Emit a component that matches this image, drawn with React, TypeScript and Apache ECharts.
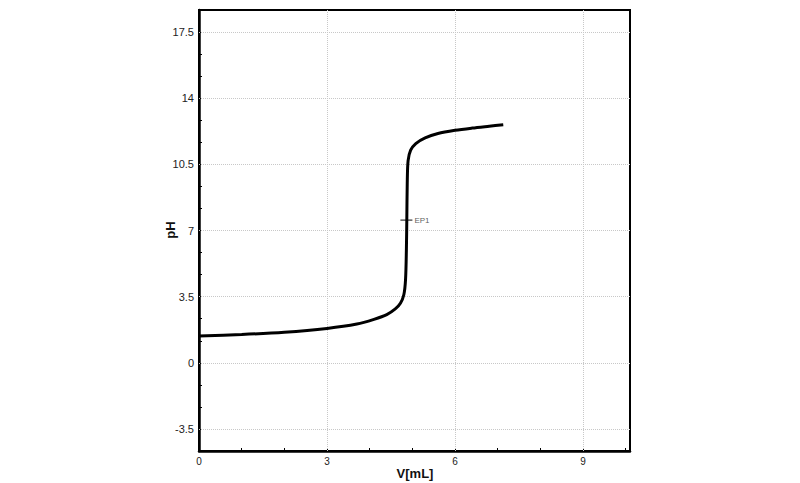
import React, { useEffect, useRef } from "react";
import * as echarts from "echarts";

const volume = [0, 1, 2, 3, 3.7, 4.1, 4.4, 4.6, 4.72, 4.8, 4.84, 4.86, 4.87, 4.88, 4.9, 4.96, 5.08, 5.3, 5.6, 6.0, 6.4, 6.8, 7.13];
const pH = [1.42, 1.5, 1.62, 1.82, 2.05, 2.3, 2.55, 2.85, 3.15, 3.6, 4.4, 6.0, 7.6, 9.5, 10.7, 11.25, 11.6, 11.9, 12.13, 12.3, 12.42, 12.52, 12.6];
const endPoint = { name: "EP1", v: 4.86, pH: 7.55 };
const xGridValues = [3, 6, 9];
const yGridValues = [-3.5, 0, 3.5, 7, 10.5, 14, 17.5];
const xRange = [0, 10.1];
const yRange = [-14 / 3, 56 / 3];

const FONT = "'Liberation Sans', Arial, sans-serif";

export default function App() {
  const ref = useRef<HTMLDivElement>(null);
  useEffect(() => {
    document.body.style.margin = "0";
    const chart = echarts.init(ref.current!, null, { renderer: "svg" });
    const gridLine = { type: "dotted", color: "#c8c8c8", width: 1 };
    chart.setOption({
      animation: false,
      backgroundColor: "#fff",
      grid: {
        left: 199,
        right: 170,
        top: 10,
        bottom: 32,
        show: true,
        borderColor: "#000",
        borderWidth: 2,
      },
      xAxis: {
        type: "value",
        min: xRange[0],
        max: xRange[1],
        interval: 1,
        axisLine: { show: true, onZero: false, lineStyle: { color: "#000", width: 2.5 } },
        axisTick: { show: true, inside: true, length: 3, lineStyle: { color: "#000", width: 1 } },
        splitLine: { show: false },
        axisLabel: {
          color: "#222",
          fontSize: 10,
          fontFamily: FONT,
          margin: 5,
          showMaxLabel: false,
          formatter: (v: number) => {
            const r = v / 3;
            return Math.abs(r - Math.round(r)) < 1e-6 ? String(Math.round(r) * 3) : "";
          },
        },
      },
      yAxis: {
        type: "value",
        min: yRange[0],
        max: yRange[1],
        interval: 7 / 6,
        axisLine: { show: true, onZero: false, lineStyle: { color: "#000", width: 2.5 } },
        axisTick: { show: true, inside: true, length: 3, lineStyle: { color: "#000", width: 1 } },
        splitLine: { show: false },
        axisLabel: {
          color: "#222",
          fontSize: 11,
          fontFamily: FONT,
          margin: 5,
          formatter: (v: number) => {
            const r = v / 3.5;
            if (Math.abs(r - Math.round(r)) > 1e-3) return "";
            const val = Math.round(r) * 3.5;
            return String(Math.round(val * 10) / 10);
          },
        },
      },
      graphic: [
        {
          type: "text",
          x: 170,
          y: 230,
          rotation: Math.PI / 2,
          style: {
            text: "pH",
            font: `bold 13px ${FONT}`,
            fill: "#111",
            align: "center",
            verticalAlign: "middle",
          },
        },
        {
          type: "text",
          x: 415,
          y: 473,
          style: {
            text: "V[mL]",
            font: `bold 13px ${FONT}`,
            fill: "#111",
            align: "center",
            verticalAlign: "middle",
          },
        },
      ],
      series: [
        {
          type: "line",
          data: volume.map((v, i) => [v, pH[i]]),
          showSymbol: false,
          smooth: 0.3,
          lineStyle: { color: "#000", width: 3 },
          z: 3,
          markLine: {
            silent: true,
            symbol: "none",
            label: { show: false },
            lineStyle: gridLine,
            z: 1,
            data: [
              ...xGridValues.map((x) => ({ xAxis: x })),
              ...yGridValues.map((y) => ({ yAxis: y })),
            ],
          },
        },
        {
          type: "scatter",
          data: [[endPoint.v, endPoint.pH]],
          symbol: "rect",
          symbolSize: [12, 1.2],
          itemStyle: { color: "#000" },
          z: 4,
          label: {
            show: true,
            position: "right",
            distance: 2,
            formatter: endPoint.name,
            fontSize: 8,
            fontFamily: FONT,
            color: "#333",
          },
        },
      ],
    });
    return () => chart.dispose();
  }, []);
  return <div ref={ref} style={{ width: 800, height: 483 }} />;
}
